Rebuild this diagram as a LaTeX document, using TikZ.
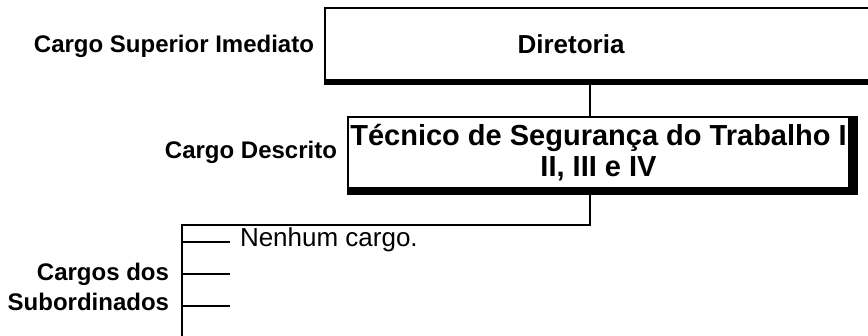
\documentclass[tikz,border=0pt]{standalone}
\usepackage{fontspec}
\setmainfont{Liberation Sans}
\usetikzlibrary{positioning, backgrounds}

\begin{document}
\begin{tikzpicture}[
        x = 0.5pt, y = -0.5pt, % one unit is one pixel of the sketch
        line width = 1pt, % line style
        inner sep = 0pt
    ]

    \tikzstyle{post}=[
        draw = black,
        fill = white,
        line width = 1pt
    ]
    \tikzstyle{side}=[
        font = \bfseries\fontsize{12}{15}\selectfont,
        align = right
    ]
    \useasboundingbox (0,0) rectangle (868,336);

    \node[post, minimum width = 280pt, minimum height = 36pt] (dir) at (605,44) {};
    \node[font = \bfseries\fontsize{13}{15}\selectfont] (dirname) at (571,44) {Diretoria};
    \node[post, minimum width = 250.5pt, minimum height = 35.5pt, align = center,
          font = \bfseries\fontsize{14.5}{15.5}\selectfont] (tec) at (598.5,152.5)
          {Técnico de Segurança do Trabalho I\\II, III e IV};

    \node[side, anchor = base east] (sup) at (315,53) {Cargo Superior Imediato};
    \node[side, anchor = base east] (desc) at (338,159) {Cargo Descrito};
    \node[side, anchor = east] (sub) at (170,287) {Cargos dos\\Subordinados};

    \coordinate (stem) at (590,0);
    \coordinate (bartop) at (182,225);
    \coordinate (barend) at (182,345);

    \draw (dir.south -| stem) -- (tec.north -| stem);
    \draw (tec.south -| stem) |- (bartop) -- (barend);
    \foreach \y [count=\i] in {242,274,306} {
        \coordinate (stub\i) at (230,\y);
        \draw (bartop |- stub\i) -- (stub\i);
    }
    \node[font = \fontsize{13}{15}\selectfont, anchor = base west] (none) at (239,247) {Nenhum cargo.};

    \begin{scope}[on background layer]
        \fill (dir.north west) rectangle ([shift={(0,4)}]dir.south east);
        \fill (tec.north west) rectangle ([shift={(8,6)}]tec.south east);
    \end{scope}
\end{tikzpicture}
\end{document}
